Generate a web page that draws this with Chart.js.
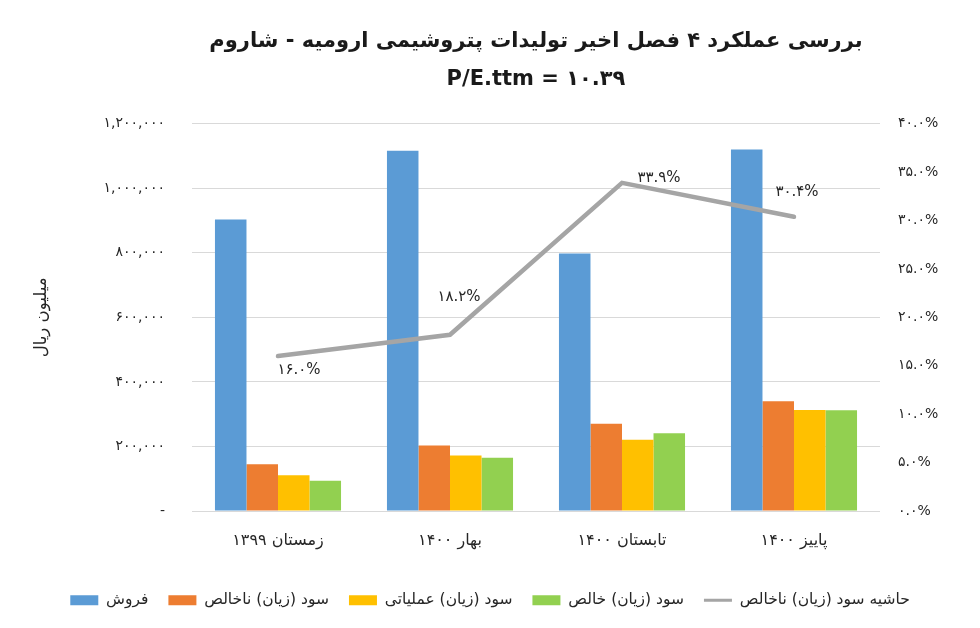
<!DOCTYPE html>
<html>
<head>
<meta charset="utf-8">
<script src="https://cdn.jsdelivr.net/npm/chart.js@4.4.1/dist/chart.umd.min.js"></script>
<style>
    html, body { margin: 0; padding: 0; background: #fff; }
    #wrap { width: 980px; height: 628px; position: relative; }
</style>
</head>
<body>
<div id="wrap"><canvas id="chart"></canvas></div>
<script>
// Data
const quarters = ['زمستان ۱۳۹۹', 'بهار ۱۴۰۰', 'تابستان ۱۴۰۰', 'پاییز ۱۴۰۰'];
const sales = [903000, 1116000, 798000, 1120000];
const grossProfit = [144500, 203000, 270500, 340000];
const operatingProfit = [110500, 172000, 220600, 313000];
const netProfit = [94000, 165000, 241300, 312500];
const grossMargin = [16.0, 18.2, 33.9, 30.4];

const leftTicks = [0, 200000, 400000, 600000, 800000, 1000000, 1200000];
const rightTicks = [0, 5, 10, 15, 20, 25, 30, 35, 40];

const faFont = '"DejaVu Sans", sans-serif';
const textColor = '#262626';

// western digits -> persian digits
function toFa(s) {
    return String(s).replace(/[0-9]/g, d => '۰۱۲۳۴۵۶۷۸۹'[d]);
}

// labels next to the margin line points
const lineLabels = {
    id: 'lineLabels',
    afterDatasetsDraw(chart, args, opts) {
        const meta = chart.getDatasetMeta(opts.datasetIndex);
        const ctx = chart.ctx;
        ctx.save();
        ctx.font = '15px ' + faFont;
        ctx.fillStyle = textColor;
        ctx.textAlign = 'center';
        ctx.textBaseline = 'middle';
        meta.data.forEach((pt, i) => {
            const off = opts.offsets[i];
            const value = chart.data.datasets[opts.datasetIndex].data[i];
            ctx.fillText(toFa(value.toFixed(1)) + '%', pt.x + off[0], pt.y + off[1]);
        });
        ctx.restore();
    }
};

const ctx = document.getElementById('chart').getContext('2d');

new Chart(ctx, {
    type: 'bar',
    data: {
        labels: quarters,
        datasets: [
            { label: 'فروش', data: sales, backgroundColor: '#5B9BD5', yAxisID: 'y', order: 1 },
            { label: 'سود (زیان) ناخالص', data: grossProfit, backgroundColor: '#ED7D31', yAxisID: 'y', order: 1 },
            { label: 'سود (زیان) عملیاتی', data: operatingProfit, backgroundColor: '#FFC000', yAxisID: 'y', order: 1 },
            { label: 'سود (زیان) خالص', data: netProfit, backgroundColor: '#92D050', yAxisID: 'y', order: 1 },
            {
                type: 'line',
                label: 'حاشیه سود (زیان) ناخالص',
                data: grossMargin,
                yAxisID: 'y1',
                borderColor: '#A5A5A5',
                backgroundColor: '#A5A5A5',
                borderWidth: 4.5,
                borderCapStyle: 'round',
                pointRadius: 0,
                tension: 0,
                order: 0
            }
        ]
    },
    plugins: [lineLabels],
    options: {
        responsive: true,
        maintainAspectRatio: false,
        animation: false,
        layout: { padding: { left: 0, right: 0, top: 0, bottom: 10 } },
        datasets: {
            bar: { categoryPercentage: 0.733, barPercentage: 1 }
        },
        scales: {
            x: {
                grid: { display: false, drawTicks: false },
                border: { display: false },
                ticks: {
                    padding: 20,
                    color: textColor,
                    font: { family: faFont, size: 16 }
                },
                afterFit: scale => { scale.height = 61.5; }
            },
            y: {
                position: 'left',
                min: 0,
                max: 1200000,
                afterBuildTicks: scale => { scale.ticks = leftTicks.map(v => ({ value: v })); },
                grid: { color: '#D9D9D9', drawTicks: false },
                border: { display: false },
                ticks: {
                    padding: 27,
                    color: textColor,
                    font: { family: faFont, size: 14 },
                    callback: v => v === 0 ? '-' : toFa(v.toLocaleString('en-US'))
                },
                title: {
                    display: true,
                    text: 'میلیون ریال',
                    color: textColor,
                    font: { family: faFont, size: 16.5 },
                    padding: { top: 32, bottom: 0 }
                },
                afterFit: scale => { scale.width = 192; }
            },
            y1: {
                position: 'right',
                min: 0,
                max: 40,
                afterBuildTicks: scale => { scale.ticks = rightTicks.map(v => ({ value: v })); },
                grid: { display: false, drawTicks: false },
                border: { display: false },
                ticks: {
                    padding: 18,
                    color: textColor,
                    font: { family: faFont, size: 14 },
                    callback: v => toFa(v.toFixed(1)) + '%'
                },
                afterFit: scale => { scale.width = 100; }
            }
        },
        plugins: {
            title: {
                display: true,
                fullSize: false,
                text: ['بررسی عملکرد ۴ فصل اخیر تولیدات پتروشیمی ارومیه - شاروم', 'P/E.ttm = ۱۰.۳۹'],
                color: '#1a1a1a',
                font: { family: faFont, size: 21, weight: 'bold', lineHeight: 1.78 },
                padding: { top: 23, bottom: 26 }
            },
            legend: {
                position: 'bottom',
                labels: {
                    usePointStyle: true,
                    pointStyleWidth: 28,
                    boxHeight: 10,
                    padding: 20,
                    color: textColor,
                    font: { family: faFont, size: 15.5 },
                    sort: (a, b) => a.datasetIndex - b.datasetIndex,
                    generateLabels: chart => {
                        const items = Chart.defaults.plugins.legend.labels.generateLabels(chart);
                        items.forEach(it => {
                            const ds = chart.data.datasets[it.datasetIndex];
                            if (ds.type === 'line') {
                                it.pointStyle = 'line';
                                it.lineWidth = 3;
                                it.strokeStyle = ds.borderColor;
                            } else {
                                it.pointStyle = 'rect';
                                it.lineWidth = 0;
                            }
                        });
                        return items;
                    }
                }
            },
            tooltip: { enabled: false },
            lineLabels: {
                datasetIndex: 4,
                offsets: [[21, 14], [9, -38], [37, -5], [3, -25]]
            }
        }
    }
});
</script>
</body>
</html>
